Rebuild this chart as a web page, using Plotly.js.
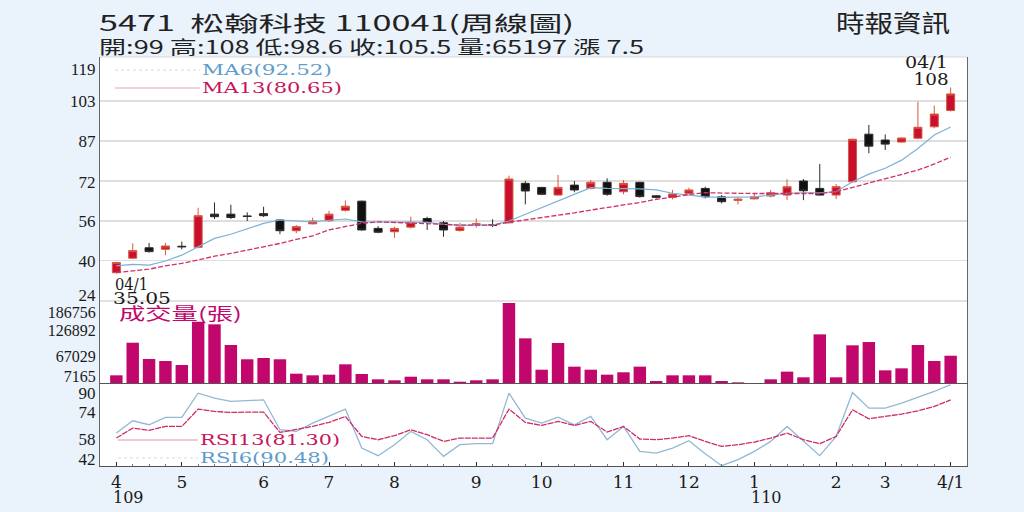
<!DOCTYPE html>
<html>
<head>
<meta charset="utf-8">
<script src="https://cdn.plot.ly/plotly-3.0.1.min.js"></script>
<style>
html,body{margin:0;padding:0;background:#EAF2FB;}
#chart{width:1024px;height:512px;}
</style>
</head>
<body>
<div id="chart"></div>
<script>
// ---- data (weekly, 109/04/01 .. 110/04/01) ----
const weekIdx = Array.from({length: 52}, (_, i) => i);
const openP  = [35.3,41,45.1,44.5,45.7,45.3,58.3,58.3,57.6,58.5,56.0,51.8,54.5,55.7,59.8,63.4,52.7,51.4,53.2,56.6,54.9,51.9,54.1,54.2,54.9,70.4,68.8,65.8,69.7,68.4,70.8,67.1,70.8,65.5,64.9,66.5,68.4,65.1,63.7,64.3,65.4,65.8,71.3,68.4,65.8,71.0,89.7,87.4,86.6,88.1,92.6,99];
const highP  = [39.6,46.8,47,47,47.5,60.8,62.9,62,59,61.2,56.3,54,56.9,59.6,63.7,63.6,53.6,53.4,57.3,57.3,55.6,54.9,56.6,56.3,73.4,71.3,69,73.7,71.3,71.7,72.4,71.7,71,65.8,67.8,68.7,69.1,65.8,64.9,66.2,67.8,72,72.1,78,70.1,87.9,93.3,89.6,88.4,102.4,100.9,108];
const lowP   = [35.05,40.8,43.2,42.2,44.5,44.9,56.4,56.4,55.6,57.2,50.4,50.8,54.3,55.3,59.3,51.8,50.8,49.0,52.7,52.1,49.4,51.4,53.0,53.2,54.6,62.1,65.8,65.5,66.9,68,65.5,66.1,64.8,64.4,64.1,66.1,64.5,62.5,62.1,64.1,64.9,63.8,63.8,65.6,64.2,70.8,82.2,83.5,86.4,87.7,92.0,98.6];
const closeP = [39.3,44,43.6,45.8,45.5,57.7,57.3,57.0,57.4,57.7,51.8,53.4,55.6,58.3,61.4,52.1,51.2,52.7,55.1,55.1,52.1,53.2,54.5,53.9,72.1,67.4,66.1,68.8,67.8,70.8,66.1,70.4,65.2,64.9,66.2,67.8,65.1,63.2,64.2,65.1,66.7,69.1,67.5,65.8,69.1,87.7,85.0,85.8,88.2,92.4,97.6,105.5];
const ma6  = [38.0,38.6,38.3,39.9,42.2,45.5,48.8,50.4,52.7,54.7,56.0,55.6,55.3,55.9,56.4,55.3,55.3,55.1,55.1,55.1,54.3,54.0,54.0,54.0,55.6,58.2,60.8,63.2,65.8,68.7,68.4,68.4,68.2,67.8,66.5,65.8,65.1,64.9,64.9,65.1,65.8,66.5,66.7,66.7,67.1,71.0,74.0,76.3,79.5,84.1,89.4,92.52];
const ma13 = [35.4,36.0,36.7,38.0,39.0,40.3,41.8,42.9,44.2,45.5,46.8,48.4,49.8,52.1,53.4,54.7,55.3,55.1,54.9,54.7,54.3,54.0,54.0,54.0,55.1,56.0,56.9,57.9,58.8,59.9,60.8,61.9,62.9,64.1,65.0,66.0,66.7,66.7,66.5,66.4,66.4,66.4,66.4,66.4,67.1,68.8,70.4,72.0,73.7,75.6,78.0,80.65];
const volume = [20000,95200,57600,53000,43800,143600,137600,89900,57000,60000,57000,23800,20000,21500,45400,23000,10800,8500,16800,10800,10800,5300,8500,10800,186756,105300,33000,94500,40000,33000,21500,27000,40000,6900,20000,20000,20000,6900,3800,1000,10800,28500,15400,114500,15400,89200,96800,31500,36100,89900,53000,65197];
const rsi6  = [61.4,68.8,66.4,70.8,70.8,85.4,82.4,80.4,80.9,81.4,63.4,62.4,67.4,71.4,75.8,52.4,47.8,54.4,62.4,57.4,47.4,54.4,55.0,55.0,85.4,70.4,67.4,71.0,66.4,71.4,57.4,65.4,50.4,49.4,52.4,56.8,49.0,41.8,45.4,50.4,56.4,65.4,56.4,47.8,59.4,85.8,76.4,76.4,79.4,82.8,86.4,90.48];
const rsi13 = [58.4,64.4,63.0,65.4,65.4,75.8,74.4,73.8,74.0,74.0,61.8,63.4,65.4,67.8,71.4,59.4,57.4,59.8,63.4,60.4,56.4,58.4,58.4,58.4,75.8,67.8,66.0,68.4,66.0,68.4,62.0,65.4,57.8,57.4,58.4,59.8,56.4,53.4,54.4,56.0,58.4,61.4,57.4,55.0,59.4,75.4,70.0,71.4,72.8,74.8,77.4,81.3];

const monthTickIdx  = [0,4,9,13,17,22,26,31,35,39,44,47,51];
const monthTickText = ['4','5','6','7','8','9','10','11','12','1','2','3','4/1'];
const yearLabels = [{idx: 0, text: '109'}, {idx: 39, text: '110'}];

const priceTickText = ['119','103','87','72','56','40','24'];
const priceTickPos  = [115.3,102.7,87,71,55.6,40,26.5];
const priceGrid     = [40,55.6,71.3,87,102.7];
const volTickText = ['186756','126892','67029','7165'];
const volTickPos  = [166000,124500,64560,18400];
const rsiTickText = ['90','74','58','42'];
const rsiTickPos  = [85.7,74,58,46];

const headerLine1 = '5471  松翰科技 110041(周線圖)';
const headerLine2 = '開:99 高:108 低:98.6 收:105.5 量:65197 漲 7.5';
const source = '時報資訊';

const last = weekIdx.length - 1;
const serif = 'DejaVu Serif, Liberation Serif, serif';
const numFont = 'Liberation Serif, serif';
const cjk = 'Noto Sans CJK TC, Noto Sans CJK SC, sans-serif';

const traces = [
  {type: 'candlestick', x: weekIdx, open: openP, high: highP, low: lowP, close: closeP,
   xaxis: 'x', yaxis: 'y', whiskerwidth: 0,
   increasing: {line: {color: '#D8573F', width: 1}, fillcolor: '#C8102E'},
   decreasing: {line: {color: '#2a2a2a', width: 1}, fillcolor: '#111111'},
   hoverinfo: 'skip'},
  {type: 'scatter', mode: 'lines', x: weekIdx, y: ma6, xaxis: 'x', yaxis: 'y',
   line: {color: '#7DB0D6', width: 1.2}, hoverinfo: 'skip'},
  {type: 'scatter', mode: 'lines', x: weekIdx, y: ma13, xaxis: 'x', yaxis: 'y',
   line: {color: '#D0306A', width: 1.3, dash: '5px,2px'}, hoverinfo: 'skip'},
  {type: 'bar', x: weekIdx, y: volume, xaxis: 'x', yaxis: 'y2',
   marker: {color: '#C2076C', line: {width: 0}}, hoverinfo: 'skip'},
  {type: 'scatter', mode: 'lines', x: weekIdx, y: rsi6, xaxis: 'x', yaxis: 'y3',
   line: {color: '#92B8D4', width: 1.3}, hoverinfo: 'skip'},
  {type: 'scatter', mode: 'lines', x: weekIdx, y: rsi13, xaxis: 'x', yaxis: 'y3',
   line: {color: '#CC2E66', width: 1.3, dash: '6px,1px'}, hoverinfo: 'skip'}
];

const yAxisCommon = {
  showline: true, linecolor: '#666', linewidth: 1, mirror: true,
  ticks: '', zeroline: false, showgrid: false,
  tickfont: {family: numFont, size: 17, color: '#1a1a1a'},
  tickmode: 'array', fixedrange: true
};

// annotation list; "stretch" gives the drawn width (px) to fit wide newspaper lettering
const annoSpecs = [
  {a: {xref: 'paper', yref: 'paper', x: -0.004, y: 1.0856, xanchor: 'left', yanchor: 'middle',
   text: headerLine1, showarrow: false, font: {family: cjk, size: 21, color: '#222'}}, w: 475},
  {a: {xref: 'paper', yref: 'paper', x: -0.004, y: 1.0269, xanchor: 'left', yanchor: 'middle',
   text: headerLine2, showarrow: false, font: {family: cjk, size: 18, color: '#222'}}, w: 545},
  {a: {xref: 'paper', yref: 'paper', x: 0.983, y: 1.0856, xanchor: 'right', yanchor: 'middle',
   text: source, showarrow: false, font: {family: cjk, size: 24, color: '#222'}}, w: 114, right: true},
  {a: {xref: 'paper', yref: 'paper', x: 0.1153, y: 0.9682, xanchor: 'left', yanchor: 'middle',
   text: 'MA6(' + ma6[last].toFixed(2) + ')', showarrow: false, font: {family: serif, size: 15, color: '#5E9CCB'}}, w: 130},
  {a: {xref: 'paper', yref: 'paper', x: 0.1153, y: 0.9242, xanchor: 'left', yanchor: 'middle',
   text: 'MA13(' + ma13[last].toFixed(2) + ')', showarrow: false, font: {family: serif, size: 15, color: '#C8145A'}}, w: 140},
  {a: {xref: 'paper', yref: 'paper', x: 0.0196, y: 0.3741, xanchor: 'left', yanchor: 'middle',
   text: '成交量(張)', showarrow: false, font: {family: cjk, size: 17, color: '#C2076C'}}, w: 123},
  {a: {xref: 'paper', yref: 'paper', x: 0.113, y: 0.0636, xanchor: 'left', yanchor: 'middle',
   text: 'RSI13(' + rsi13[last].toFixed(2) + ')', showarrow: false, font: {family: serif, size: 15, color: '#C8145A'}}, w: 140},
  {a: {xref: 'paper', yref: 'paper', x: 0.113, y: 0.0196, xanchor: 'left', yanchor: 'middle',
   text: 'RSI6(' + rsi6[last].toFixed(2) + ')', showarrow: false, font: {family: serif, size: 15, color: '#5E9CCB'}}, w: 129},
  {a: {xref: 'x', yref: 'y', x: 0, y: lowP[0], xanchor: 'left', yanchor: 'middle', xshift: -3, yshift: -11,
   text: '04/1', showarrow: false, font: {family: serif, size: 16, color: '#1a1a1a'}}, w: 33},
  {a: {xref: 'x', yref: 'y', x: 0, y: lowP[0], xanchor: 'left', yanchor: 'middle', xshift: -5, yshift: -25,
   text: String(lowP[0]), showarrow: false, font: {family: serif, size: 16, color: '#1a1a1a'}}, w: 58},
  {a: {xref: 'x', yref: 'y', x: last, y: highP[last], xanchor: 'right', yanchor: 'middle', xshift: -1, yshift: 25,
   text: '04/1', showarrow: false, font: {family: serif, size: 16, color: '#1a1a1a'}}, w: 43, right: true},
  {a: {xref: 'x', yref: 'y', x: last, y: highP[last], xanchor: 'right', yanchor: 'middle', xshift: 0, yshift: 8,
   text: String(highP[last]), showarrow: false, font: {family: serif, size: 16, color: '#1a1a1a'}}, w: 35, right: true}
];
yearLabels.forEach(function (d) {
  annoSpecs.push({a: {xref: 'x', yref: 'paper', x: d.idx, y: -0.0758, xanchor: 'left', yanchor: 'middle',
    xshift: -5, text: d.text, showarrow: false, font: {family: serif, size: 16, color: '#1a1a1a'}}, w: 0});
});

const shapes = [
  {type: 'line', xref: 'paper', yref: 'paper', x0: 0, x1: 1, y0: 1, y1: 1, line: {color: '#d8d8d8', width: 1}},
  {type: 'line', xref: 'paper', yref: 'paper', x0: 0, x1: 1, y0: 0.4034, y1: 0.4034, line: {color: '#d8d8d8', width: 1.5}},
  {type: 'line', xref: 'paper', yref: 'paper', x0: 0.0173, x1: 0.1153, y0: 0.9682, y1: 0.9682, line: {color: '#c9dcea', width: 1, dash: 'dot'}},
  {type: 'line', xref: 'paper', yref: 'paper', x0: 0.0173, x1: 0.1153, y0: 0.9242, y1: 0.9242, line: {color: '#E4A2BC', width: 1}},
  {type: 'line', xref: 'paper', yref: 'paper', x0: 0.0207, x1: 0.113, y0: 0.0636, y1: 0.0636, line: {color: '#EBB8C9', width: 1.5}},
  {type: 'line', xref: 'paper', yref: 'paper', x0: 0.0207, x1: 0.113, y0: 0.0196, y1: 0.0196, line: {color: '#d0dce6', width: 1, dash: 'dot'}}
];

const layout = {
  width: 1024, height: 512,
  margin: {l: 100, r: 57, t: 57, b: 46, pad: 0},
  paper_bgcolor: '#EAF2FB', plot_bgcolor: '#FFFFFF',
  showlegend: false, hovermode: false,
  bargap: 0.24, boxgap: 0.3,
  xaxis: {
    domain: [0, 1], range: [-1, 52], anchor: 'y3', type: 'linear',
    tickmode: 'array', tickvals: monthTickIdx, ticktext: monthTickText,
    ticks: 'inside', ticklen: 4, tickcolor: '#333', tickwidth: 1,
    minor: {dtick: 1, tick0: 0, ticks: 'inside', ticklen: 2, tickcolor: '#777', showgrid: false},
    showline: true, linecolor: '#555', linewidth: 1.2, mirror: true,
    showgrid: false, zeroline: false,
    tickfont: {family: serif, size: 17, color: '#1a1a1a'},
    rangeslider: {visible: false}, fixedrange: true
  },
  yaxis: Object.assign({}, yAxisCommon, {
    domain: [0.4034, 1], range: [24.2, 120.0], anchor: 'x',
    tickvals: priceTickPos, ticktext: priceTickText,
    minor: {tickmode: 'array', tickvals: priceGrid, showgrid: true, gridcolor: '#dedede', gridwidth: 1.2, ticks: ''}
  }),
  yaxis2: Object.assign({}, yAxisCommon, {
    domain: [0.2005, 0.4034], range: [0, 191400], anchor: 'x',
    tickvals: volTickPos, ticktext: volTickText,
    tickfont: {family: numFont, size: 16, color: '#1a1a1a'}
  }),
  yaxis3: Object.assign({}, yAxisCommon, {
    domain: [0, 0.2005], range: [41.6, 90.9], anchor: 'x',
    tickvals: rsiTickPos, ticktext: rsiTickText
  }),
  annotations: annoSpecs.map(function (s) { return s.a; }),
  shapes: shapes
};

Plotly.newPlot('chart', traces, layout, {displayModeBar: false, staticPlot: true}).then(function (gd) {
  // widen lettering to match the wide newspaper typeface
  const groups = gd.querySelectorAll('g.annotation');
  groups.forEach(function (g) {
    const idx = +g.getAttribute('data-index');
    const spec = annoSpecs[idx];
    if (!spec || !spec.w) return;
    const t = g.querySelector('text.annotation-text');
    if (!t) return;
    const b0 = t.getBBox();
    t.setAttribute('textLength', spec.w);
    t.setAttribute('lengthAdjust', 'spacingAndGlyphs');
    const b1 = t.getBBox();
    const dx = spec.right ? (b0.x + b0.width) - (b1.x + b1.width) : b0.x - b1.x;
    const prev = t.getAttribute('transform') || '';
    t.setAttribute('transform', prev + ' translate(' + dx + ',0)');
  });
});
</script>
</body>
</html>
